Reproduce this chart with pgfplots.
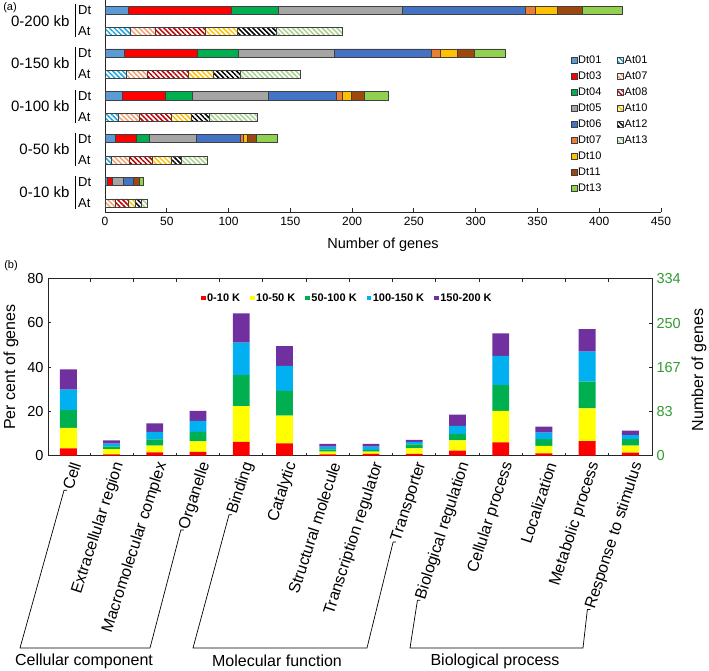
\documentclass[border=0pt]{standalone}
\usepackage{fontspec}
\setmainfont{Liberation Sans}
\usepackage{pgfplots}
\pgfplotsset{compat=1.18}
\usepackage{pgfplotstable}
\usetikzlibrary{patterns.meta,calc}

\definecolor{edge}{HTML}{404040}
\definecolor{Dt01}{HTML}{5B9BD5}
\definecolor{Dt03}{HTML}{FF0000}
\definecolor{Dt04}{HTML}{00B050}
\definecolor{Dt05}{HTML}{A5A5A5}
\definecolor{Dt06}{HTML}{4472C4}
\definecolor{Dt07}{HTML}{ED7D31}
\definecolor{Dt10}{HTML}{FFC000}
\definecolor{Dt11}{HTML}{9E480E}
\definecolor{Dt13}{HTML}{92D050}
\definecolor{At01}{HTML}{1FA8E0}
\definecolor{At07}{HTML}{F0A070}
\definecolor{At08}{HTML}{C00000}
\definecolor{At10}{HTML}{FFC000}
\definecolor{At12}{HTML}{000000}
\definecolor{At13}{HTML}{A9D18E}
\definecolor{k1}{HTML}{FF0000}
\definecolor{k2}{HTML}{FFFF00}
\definecolor{k3}{HTML}{00B050}
\definecolor{k4}{HTML}{00B0F0}
\definecolor{k5}{HTML}{7030A0}
\definecolor{tickgreen}{HTML}{339933}

\tikzset{
  dt/.style={fill=#1, draw=edge, line width=0.7pt},
  hatch/.style={pattern={Lines[angle=-45,distance=3.5pt,line width=1.5pt]}, pattern color=#1, draw=edge, line width=0.7pt},
  catlab/.style={rotate=72, anchor=east, inner sep=1pt, font=\fontsize{16}{19}\selectfont},
}

% rows: 9 = Dt 0-200, 8 = At 0-200, ... 1 = Dt 0-10, 0 = At 0-10
\pgfplotstableread{
y Dt01 Dt03 Dt04 Dt05 Dt06 Dt07 Dt10 Dt11 Dt13 At01 At07 At08 At10 At12 At13
9 19   83   38   101  99   8    18   20   33   0    0    0    0    0    0
8 0    0    0    0    0    0    0    0    0    20.5 20   41   26   31   54
7 15.6 59.4 32.6 78   78.8 7    13.7 13.5 25.7 0    0    0    0    0    0
6 0    0    0    0    0    0    0    0    0    17   17.5 33.2 20   22.1 48
5 14   34.8 22.2 61.5 55   4.5  7.7  10.1 19.8 0    0    0    0    0    0
4 0    0    0    0    0    0    0    0    0    10.8 17   25.9 15.9 14.6 39.4
3 8.6  17   10.2 37.8 35.6 3    3    7.6  17   0    0    0    0    0    0
2 0    0    0    0    0    0    0    0    0    4.9  14.8 18.9 14.8 8.6  20.8
1 1.9  4.3  0    8.6  8    0    0    4.9  3.2  0    0    0    0    0    0
0 0    0    0    0    0    0    0    0    0    0    8.6  10.2 5.4  5.4  4.9
}\genes

% per cent of genes, GO categories 0..13
\pgfplotstableread{
x  a   b    c    d    e
0  3.3 9.3  8.0  9.2  9.2
1  0.6 2.4  1.1  1.3  1.5
2  1.5 3.0  2.9  3.4  3.8
3  1.7 4.8  4.3  4.9  4.5
4  6.3 16.1 14.0 14.6 13.3
5  5.6 12.5 11.2 11.2 9.0
6  0.6 1.2  1.1  1.2  1.2
7  0.8 1.0  0.8  1.5  1.2
8  0.8 2.5  1.8  1.1  0.9
9  2.3 4.6  3.0  3.6  5.0
10 6.0 14.2 11.7 13.2 10.1
11 1.1 3.3  3.1  2.9  2.7
12 6.6 14.8 12.0 13.6 10.1
13 1.4 3.1  3.0  1.8  2.0
}\goterms

\begin{document}
\begin{tikzpicture}
\useasboundingbox (0pt,0pt) rectangle (709pt,-671pt);

% ---------------- (a)
\begin{axis}[
  at={(105pt,-212pt)}, anchor=south west,
  scale only axis, width=556pt, height=212pt,
  xmin=0, xmax=450, ymin=-0.42, ymax=9.47,
  xbar stacked, bar width=0.38,
  axis x line*=bottom, axis y line*=left,
  axis line style={-, line width=0.8pt, black!85},
  xtick={0,50,...,450}, ytick=\empty,
  tick align=inside, major tick length=4pt,
  tick style={line width=0.8pt, black!85},
  /pgf/number format/assume math mode=true,
  xticklabel style={font=\fontsize{12}{14}\selectfont, yshift=-2pt},
  legend columns=2,
  legend cell align=left,
  legend image code/.code={\draw[#1] (0pt,-2.8pt) rectangle (5.6pt,2.8pt);},
  legend style={at={(0.8376,0.7406)}, anchor=north west, draw=none, fill=none,
    inner sep=0pt, row sep=5.5pt,
    font=\fontsize{11}{13}\selectfont,
    nodes={inner xsep=1pt, inner ysep=0pt, text height=8pt, text depth=2.5pt},
    /tikz/every even column/.append style={column sep=15pt}},
]
\addlegendimage{dt=Dt01}\addlegendentry{Dt01}
\addlegendimage{hatch=At01}\addlegendentry{At01}
\addlegendimage{dt=Dt03}\addlegendentry{Dt03}
\addlegendimage{hatch=At07}\addlegendentry{At07}
\addlegendimage{dt=Dt04}\addlegendentry{Dt04}
\addlegendimage{hatch=At08}\addlegendentry{At08}
\addlegendimage{dt=Dt05}\addlegendentry{Dt05}
\addlegendimage{hatch=At10}\addlegendentry{At10}
\addlegendimage{dt=Dt06}\addlegendentry{Dt06}
\addlegendimage{hatch=At12}\addlegendentry{At12}
\addlegendimage{dt=Dt07}\addlegendentry{Dt07}
\addlegendimage{hatch=At13}\addlegendentry{At13}
\addlegendimage{dt=Dt10}\addlegendentry{Dt10}
\addlegendimage{empty legend}\addlegendentry{}
\addlegendimage{dt=Dt11}\addlegendentry{Dt11}
\addlegendimage{empty legend}\addlegendentry{}
\addlegendimage{dt=Dt13}\addlegendentry{Dt13}

\addplot[dt=Dt01] table[x=Dt01, y=y] {\genes};
\addplot[dt=Dt03] table[x=Dt03, y=y] {\genes};
\addplot[dt=Dt04] table[x=Dt04, y=y] {\genes};
\addplot[dt=Dt05] table[x=Dt05, y=y] {\genes};
\addplot[dt=Dt06] table[x=Dt06, y=y] {\genes};
\addplot[dt=Dt07] table[x=Dt07, y=y] {\genes};
\addplot[dt=Dt10] table[x=Dt10, y=y] {\genes};
\addplot[dt=Dt11] table[x=Dt11, y=y] {\genes};
\addplot[dt=Dt13] table[x=Dt13, y=y] {\genes};
\addplot[hatch=At01] table[x=At01, y=y] {\genes};
\addplot[hatch=At07] table[x=At07, y=y] {\genes};
\addplot[hatch=At08] table[x=At08, y=y] {\genes};
\addplot[hatch=At10] table[x=At10, y=y] {\genes};
\addplot[hatch=At12] table[x=At12, y=y] {\genes};
\addplot[hatch=At13] table[x=At13, y=y] {\genes};
\end{axis}

\node[font=\fontsize{11}{13}\selectfont] at (10pt,-7.5pt) {(a)};
\node[font=\fontsize{14.5}{17}\selectfont] at (383pt,-245pt) {Number of genes};
\begin{scope}[font=\fontsize{15}{18}\selectfont]
  \node[anchor=east] at (73pt,-21pt)    {0-200 kb};
  \node[anchor=east] at (73pt,-63.6pt)  {0-150 kb};
  \node[anchor=east] at (73pt,-106.5pt) {0-100 kb};
  \node[anchor=east] at (73pt,-149.4pt) {0-50 kb};
  \node[anchor=east] at (73pt,-192.3pt) {0-10 kb};
\end{scope}
\begin{scope}[font=\fontsize{13}{15}\selectfont]
  \foreach \d/\a in {10/31.5, 52.9/74.4, 95.8/117.2, 138.7/160.1, 181.6/203} {
    \draw[line width=0.8pt] (75.5pt,{-\d pt+6pt}) -- (75.5pt,{-\a pt-6pt});
    \node[anchor=west, inner sep=1pt] at (77pt,-\d pt) {Dt};
    \node[anchor=west, inner sep=1pt] at (77pt,-\a pt) {At};
  }
\end{scope}

% ---------------- (b)
\begin{axis}[
  at={(48pt,-455.7pt)}, anchor=south west,
  scale only axis, width=604pt, height=177.2pt,
  xmin=-0.47, xmax=13.5, ymin=0, ymax=80,
  ybar stacked, bar width=0.39,
  clip=false,
  axis line style={line width=0.8pt, black!85},
  xtick={0.5,1.5,...,12.5}, xticklabels={},
  ytick={0,20,...,80}, ytick pos=left,
  tick align=inside, major tick length=3pt,
  tick style={line width=0.8pt, black!85},
  /pgf/number format/assume math mode=true,
  yticklabel style={font=\fontsize{14.5}{17}\selectfont, xshift=-1pt},
  legend columns=-1,
  legend image code/.code={\fill[#1] (0pt,-2.3pt) rectangle (4.6pt,2.3pt);},
  legend style={at={(0.253,0.89)}, anchor=west, draw=none, fill=none,
    inner sep=0pt,
    font=\fontsize{11}{13}\selectfont\bfseries,
    nodes={inner xsep=1.5pt, inner ysep=0pt},
    /tikz/every even column/.append style={column sep=8.5pt}},
]
\addplot[fill=k1, draw=none] table[x=x, y=a] {\goterms}; \addlegendentry{0-10 K}
\addplot[fill=k2, draw=none] table[x=x, y=b] {\goterms}; \addlegendentry{10-50 K}
\addplot[fill=k3, draw=none] table[x=x, y=c] {\goterms}; \addlegendentry{50-100 K}
\addplot[fill=k4, draw=none] table[x=x, y=d] {\goterms}; \addlegendentry{100-150 K}
\addplot[fill=k5, draw=none] table[x=x, y=e] {\goterms}; \addlegendentry{150-200 K}

\node[catlab] (c0)  at ($(axis cs:0,0)+(8pt,-6pt)$)  {Cell};
\node[catlab] (c1)  at ($(axis cs:1,0)+(8pt,-6pt)$)  {Extracellular region};
\node[catlab] (c2)  at ($(axis cs:2,0)+(8pt,-6pt)$)  {Macromolecular complex};
\node[catlab] (c3)  at ($(axis cs:3,0)+(8pt,-6pt)$)  {Organelle};
\node[catlab] (c4)  at ($(axis cs:4,0)+(8pt,-6pt)$)  {Binding};
\node[catlab] (c5)  at ($(axis cs:5,0)+(8pt,-6pt)$)  {Catalytic};
\node[catlab] (c6)  at ($(axis cs:6,0)+(8pt,-6pt)$)  {Structural molecule};
\node[catlab] (c7)  at ($(axis cs:7,0)+(8pt,-6pt)$)  {Transcription regulator};
\node[catlab] (c8)  at ($(axis cs:8,0)+(8pt,-6pt)$)  {Transporter};
\node[catlab] (c9)  at ($(axis cs:9,0)+(8pt,-6pt)$)  {Biological regulation};
\node[catlab] (c10) at ($(axis cs:10,0)+(8pt,-6pt)$) {Cellular process};
\node[catlab] (c11) at ($(axis cs:11,0)+(8pt,-6pt)$) {Localization};
\node[catlab] (c12) at ($(axis cs:12,0)+(8pt,-6pt)$) {Metabolic process};
\node[catlab] (c13) at ($(axis cs:13,0)+(8pt,-6pt)$) {Response to stimulus};
\end{axis}

\begin{axis}[
  at={(48pt,-455.7pt)}, anchor=south west,
  scale only axis, width=604pt, height=177.2pt,
  xmin=-0.47, xmax=13.5, ymin=0, ymax=334,
  axis x line=none, axis y line*=right,
  axis line style={-, line width=0.8pt, black!85},
  ytick={0,83,167,250,334},
  tick align=inside, major tick length=3pt,
  tick style={line width=0.8pt, black!85},
  /pgf/number format/assume math mode=true,
  yticklabel style={font=\fontsize{14.5}{17}\selectfont, text=tickgreen, xshift=1pt},
]
\end{axis}

\node[font=\fontsize{11}{13}\selectfont] at (11pt,-266pt) {(b)};
\node[rotate=90, font=\fontsize{16}{19}\selectfont] at (11pt,-367pt) {Per cent of genes};
\node[rotate=90, font=\fontsize{16}{19}\selectfont] at (699pt,-370pt) {Number of genes};

\begin{scope}[line width=0.7pt]
  \draw (c0.west) -- ++(-3pt,0) -- (20pt,-648pt) -- (150pt,-648pt) -- ($(c3.west)+(-3pt,0)$) -- (c3.west);
  \draw (c4.west) -- ++(-3pt,0) -- (193pt,-648pt) -- (367pt,-648pt) -- ($(c8.west)+(-3pt,0)$) -- (c8.west);
  \draw (c9.west) -- ++(-3pt,0) -- (410pt,-648pt) -- (583pt,-648pt) -- ($(c13.west)+(-3pt,0)$) -- (c13.west);
\end{scope}
\begin{scope}[font=\fontsize{16}{19}\selectfont]
  \node at (84pt,-661pt) {Cellular component};
  \node at (277pt,-661pt) {Molecular function};
  \node at (495pt,-661pt) {Biological process};
\end{scope}
\end{tikzpicture}
\end{document}
